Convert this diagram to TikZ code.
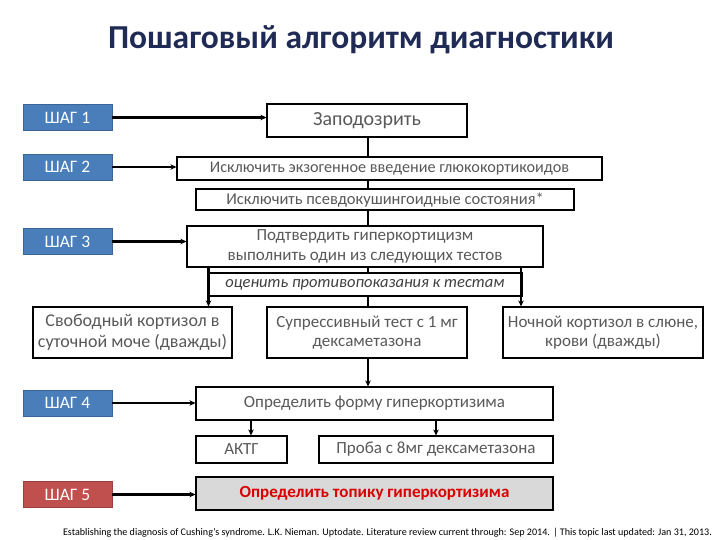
\documentclass[tikz,border=0pt]{standalone}
\usepackage{fontspec}
\setmainfont{Carlito}
\usetikzlibrary{arrows.meta}
\definecolor{stepblue}{HTML}{4A7EBB}
\definecolor{stepred}{HTML}{C0504D}
\definecolor{titlec}{HTML}{1F2A55}
\definecolor{txtgray}{HTML}{595959}
\tikzset{
  box/.style={draw=black, line width=1.1pt, fill=white, inner sep=0pt, text=txtgray, font=\fontsize{17}{19}\selectfont, align=center},
  stepbox/.style={fill=stepblue, draw=stepblue!80!black, line width=0.6pt, minimum width=89pt, minimum height=26pt, inner sep=0pt, text=white, font=\fontsize{17.5}{19}\selectfont},
  arr/.style={line width=2.2pt, -{Stealth[length=6pt,width=5.5pt]}},
  ln/.style={line width=2.2pt}
}
\begin{document}
\begin{tikzpicture}[x=1pt,y=-1pt]
\useasboundingbox (0,0) rectangle (720,540);
\node[text=titlec, font=\fontsize{33.5}{36}\selectfont\bfseries] (title) at (361,40) {Пошаговый алгоритм диагностики};

\node[stepbox] (s1) at (67.5,117.5) {ШАГ 1};
\node[stepbox] (s2) at (67.5,167) {ШАГ 2};
\node[stepbox] (s3) at (67.5,241.5) {ШАГ 3};
\node[stepbox] (s4) at (67.5,403) {ШАГ 4};
\node[stepbox, fill=stepred, draw=stepred!80!black] (s5) at (67.5,494.5) {ШАГ 5};

\node[box, minimum width=200pt, minimum height=33pt, font=\fontsize{20}{22}\selectfont] (zap) at (367,120.5) {Заподозрить};
\node[box, minimum width=425pt, minimum height=23pt, font=\fontsize{16.2}{18}\selectfont] (excl) at (389.5,168.5) {Исключить экзогенное введение глюкокортикоидов};
\node[box, minimum width=378pt, minimum height=21pt, font=\fontsize{16.5}{18}\selectfont] (pseudo) at (385,199.5) {Исключить псевдокушингоидные состояния*};
\node[box, minimum width=356pt, minimum height=41pt, font=\fontsize{17}{19.5}\selectfont] (conf) at (365,246.5) {Подтвердить гиперкортицизм\\выполнить один из следующих тестов};
\node[box, minimum width=314pt, minimum height=23pt, font=\fontsize{16.5}{18}\selectfont\itshape, text=black!75] (eval) at (365,284.5) {оценить противопоказания к тестам};

\node[box, minimum width=199pt, minimum height=51pt, font=\fontsize{18}{20.5}\selectfont] (free) at (132.5,332.5) {Свободный кортизол в\\суточной моче (дважды)};
\node[box, minimum width=200pt, minimum height=51pt] (supp) at (367,332.5) {Супрессивный тест с 1 мг\\дексаметазона};
\node[box, minimum width=200pt, minimum height=51pt] (night) at (603,332.5) {Ночной кортизол в слюне,\\крови (дважды)};

\node[box, minimum width=357pt, minimum height=33pt] (form) at (374.5,403.5) {Определить форму гиперкортизима};
\node[box, minimum width=91pt, minimum height=27pt] (aktg) at (241.5,449.5) {АКТГ};
\node[box, minimum width=234pt, minimum height=27pt] (proba) at (436,449.5) {Проба с 8мг дексаметазона};
\node[box, fill=black!15, minimum width=357pt, minimum height=33pt, text=red!85!black, font=\fontsize{17}{19}\selectfont\bfseries] (top) at (374.5,493.5) {Определить топику гиперкортизима};

\node[font=\fontsize{10.1}{11}\selectfont, text=black] (foot) at (387.5,533) {Establishing the diagnosis of Cushing's syndrome. L.K. Nieman. Uptodate. Literature review current through: Sep 2014. | This topic last updated: Jan 31, 2013.};

% step arrows
\draw[arr] (s1.east) -- (zap.west |- s1.east);
\draw[arr] (s2.east) -- (excl.west |- s2.east);
\draw[arr] (s3.east) -- (conf.west |- s3.east);
\draw[arr] (s4.east) -- (form.west |- s4.east);
\draw[arr] (s5.east) -- (top.west |- s5.east);

% main line
\coordinate (mx) at (368,0);
\draw[ln, line width=2.8pt] (zap.south -| mx) -- (excl.north -| mx);
\draw[ln] (excl.south -| mx) -- (pseudo.north -| mx);
\draw[ln] (pseudo.south -| mx) -- (conf.north -| mx);
\draw[ln] (conf.south -| mx) -- (eval.north -| mx);
\draw[ln] (eval.south -| mx) -- (supp.north -| mx);
\draw[arr] (supp.south -| mx) -- (form.north -| mx);

% side arrows
\coordinate (lx) at (208.5,0);
\coordinate (rx) at (521,0);
\draw[arr] (conf.south -| lx) -- (free.north -| lx);
\draw[arr] (conf.south -| rx) -- (night.north -| rx);

% form arrows
\coordinate (ax) at (251,0);
\draw[arr] (form.south -| ax) -- (aktg.north -| ax);
\draw[arr] (form.south -| proba.north) -- (proba.north);
\end{tikzpicture}
\end{document}
